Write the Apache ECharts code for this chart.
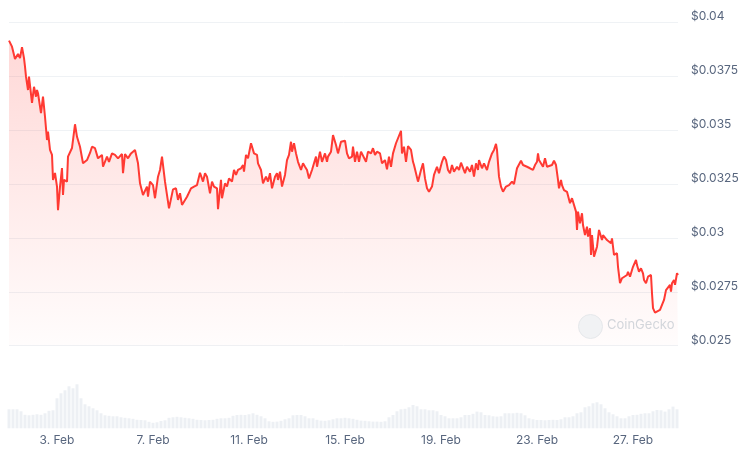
<!DOCTYPE html>
<html>
<head>
<meta charset="utf-8">
<script src="https://cdn.jsdelivr.net/npm/echarts@6/dist/echarts.min.js"></script>
<style>
  html, body { margin: 0; padding: 0; background: #fff; }
  #chart { width: 750px; height: 453px; }
</style>
</head>
<body>
<div id="chart"></div>
<script>
// Hours since 1 Feb 00:00 and price in USD
const priceFeb1to6 = [
  [0,0.03915],[3,0.03887],[6,0.03830],[9,0.03853],[11,0.03834],[13,0.03885],[15,0.03834],[16,0.03794],[17,0.03748],[19,0.03686],
  [20,0.03748],[23,0.03626],[25,0.03701],[27,0.03655],[28,0.03686],[29,0.03671],[32,0.03579],[34,0.03655],[36,0.03562],[38,0.03454],
  [39,0.03493],[41,0.03408],[43,0.03385],[44,0.03269],[46,0.03301],[48,0.03238],[49,0.03129],[51,0.03238],[53,0.03324],[54,0.03199],
  [55,0.03269],[58,0.03261],[59,0.03377],[63,0.03417],[64,0.03454],[66,0.03527],[68,0.03469],[71,0.03423],[74,0.03346],[78,0.03361],
  [81,0.03394],[83,0.03423],[86,0.03416],[89,0.03369],[93,0.03385],[94,0.03330],[98,0.03377],[100,0.03353],[103,0.03392],[106,0.03385],
  [109,0.03369],[113,0.03389],[114,0.03300],[116,0.03389],[119,0.03369],[122,0.03392],[124,0.03385],[126,0.03408],[129,0.03346],[131,0.03253],
  [134,0.03199],[138,0.03238],[139,0.03191],[141,0.03261],[144,0.03245],[146,0.03184],[149,0.03284],[151,0.03315],[153,0.03377],[156,0.03261],
  [158,0.03253],[160,0.03137],[162,0.03145],[164,0.03225]
];
const priceFeb7to14 = [
  [167,0.03230],[169,0.03176],[171,0.03207],[173,0.03153],[175,0.03161],[178,0.03191],[179,0.03184],[182,0.03230],[185,0.03238],[188,0.03245],
  [191,0.03302],[193,0.03300],[194,0.03261],[196,0.03300],[198,0.03284],[201,0.03207],[203,0.03261],[205,0.03238],[208,0.03230],[209,0.03133],
  [212,0.03269],[213,0.03184],[216,0.03253],[218,0.03238],[220,0.03276],[223,0.03261],[225,0.03315],[227,0.03292],[229,0.03315],[232,0.03323],
  [234,0.03338],[235,0.03307],[237,0.03385],[239,0.03369],[242,0.03439],[244,0.03446],[245,0.03392],[248,0.03385],[249,0.03346],[252,0.03315],
  [254,0.03253],[257,0.03284],[259,0.03261],[261,0.03300],[263,0.03230],[266,0.03284],[268,0.03300],[269,0.03269],[271,0.03307],[273,0.03238],
  [276,0.03292],[278,0.03361],[280,0.03385],[282,0.03446],[283,0.03400],[285,0.03439],[287,0.03392],[289,0.03353],[292,0.03315],[294,0.03346],
  [296,0.03330],[298,0.03315],[300,0.03276],[303,0.03315],[305,0.03346],[307,0.03377],[308,0.03330],[311,0.03400],[313,0.03353],[316,0.03392],
  [318,0.03353],[319,0.03377],[322,0.03400],[324,0.03477],[327,0.03431],[329,0.03392],[331,0.03385],[332,0.03446],[334,0.03446],[336,0.03451]
];
const priceFeb15to21 = [
  [338,0.03392],[340,0.03369],[343,0.03377],[344,0.03423],[346,0.03353],[348,0.03400],[350,0.03353],[352,0.03400],[354,0.03392],[357,0.03353],
  [359,0.03400],[362,0.03392],[364,0.03416],[366,0.03385],[368,0.03400],[371,0.03392],[373,0.03346],[376,0.03361],[378,0.03318],[380,0.03377],
  [382,0.03330],[384,0.03392],[387,0.03439],[389,0.03446],[392,0.03497],[393,0.03392],[395,0.03423],[397,0.03353],[399,0.03426],[402,0.03408],
  [404,0.03353],[405,0.03338],[407,0.03300],[409,0.03261],[412,0.03315],[414,0.03346],[416,0.03276],[418,0.03230],[420,0.03214],[423,0.03238],
  [425,0.03292],[427,0.03284],[428,0.03330],[430,0.03300],[433,0.03353],[435,0.03377],[437,0.03361],[439,0.03315],[441,0.03300],[443,0.03338],
  [445,0.03307],[448,0.03330],[450,0.03315],[452,0.03349],[454,0.03349],[456,0.03300],[458,0.03330],[461,0.03307],[463,0.03338],[465,0.03284],
  [467,0.03346],[469,0.03315],[470,0.03361],[473,0.03323],[475,0.03346],[478,0.03315],[480,0.03353],[483,0.03392],[485,0.03408],[487,0.03436],
  [488,0.03408],[490,0.03284],[492,0.03238],[494,0.03214],[497,0.03238],[500,0.03245],[503,0.03261],[505,0.03250]
];
const priceFeb22to28 = [
  [508,0.03323],[510,0.03327],[512,0.03358],[514,0.03338],[518,0.03330],[521,0.03323],[524,0.03315],[526,0.03338],[528,0.03353],[529,0.03392],
  [530,0.03361],[532,0.03369],[534,0.03330],[536,0.03369],[538,0.03330],[540,0.03338],[543,0.03338],[545,0.03358],[547,0.03338],[549,0.03269],
  [550,0.03230],[552,0.03269],[553,0.03245],[555,0.03222],[558,0.03214],[559,0.03207],[561,0.03161],[563,0.03184],[565,0.03191],[567,0.03122],
  [568,0.03037],[569,0.03122],[571,0.03068],[573,0.03114],[574,0.03060],[576,0.03013],[578,0.03052],[579,0.03006],[581,0.03045],[582,0.02921],
  [583,0.03013],[585,0.02913],[587,0.02905],[588,0.02959],[590,0.03037],[593,0.02990],[594,0.03013],[596,0.03006],[598,0.02990],[600,0.02998],
  [602,0.02975],[603,0.02998],[605,0.02921],[608,0.02929],[609,0.02866],[611,0.02790],[613,0.02813],[615,0.02820],[618,0.02828],[619,0.02843],
  [621,0.02820],[623,0.02851],[624,0.02866],[627,0.02898],[628,0.02874],[630,0.02843],[632,0.02859],[634,0.02836],[635,0.02805],[637,0.02790],
  [639,0.02820],[642,0.02828],[643,0.02743],[644,0.02674],[646,0.02653],[648,0.02662],[651,0.02666],[653,0.02662],[655,0.02712],[657,0.02758],
  [659,0.02766],[661,0.02782],[662,0.02751],[663,0.02790],[665,0.02805],[666,0.02782],[668,0.02836],[669,0.02828]
];

// Volume bars every 4 hours from 1 Feb 00:00 (relative units)
const volumeStepHours = 4;
const volume = [
  19,19,19,17,13.5,13,13.5,14,13.5,15,
  17.5,18,30,35,38,42,40,44,30,24,
  22,20,18,15,13,12.5,12,12,11,10.5,
  10,9.5,8.5,8.3,8,6.5,5.5,6,7.3,8,
  10.5,11,11.5,11,10.5,10,9.5,8.5,8.3,8,
  8.3,8.5,9.5,10,10,10.5,12.5,13.3,13.5,13.3,
  14,15,13.5,12,10,7,6.5,6.7,7.5,9,
  10,13,13.3,13.3,12,10,10,8.5,7.7,7.5,
  8,9,10,10,10.5,10,9.5,8.5,7.7,7.5,
  7,6.7,6.7,6.5,7,11,13.3,17,19,19.5,
  21,23.3,22,19,19,18,18,17,13.3,12,
  10,10,10,11,13.3,13.3,14.5,16.7,16,13.3,
  13,12,11.7,12,15,15,15,15.5,15,13,
  10,9,8.3,8.3,8,8.3,8.5,8.3,9,11,
  11,12,15,16,21,22,25,26,24,20,
  16,14,12,10,10,12,13.3,13.5,14.5,15,
  15,17,18.3,18,16.7,19,21.7,19
];

const yTicks = { min: 0.025, max: 0.04, step: 0.0025 };
const monthLabel = 'Feb';

const priceData = [].concat(priceFeb1to6, priceFeb7to14, priceFeb15to21, priceFeb22to28);
const lastHour = priceData[priceData.length - 1][0];
const volumeData = volume.map((v, i) => [i * volumeStepHours, v]);

const textColor = '#58667e';
const font = 'Inter, "Noto Sans", sans-serif';

const chart = echarts.init(document.getElementById('chart'), null, { renderer: 'canvas' });
chart.setOption({
  animation: false,
  backgroundColor: '#ffffff',
  grid: [
    { left: 9, right: 72, top: 22.3, bottom: 107.3 },
    { left: 9, right: 72, top: 380, bottom: 24.7 }
  ],
  xAxis: [
    { type: 'value', gridIndex: 0, min: 0, max: lastHour, interval: 48, show: false },
    {
      type: 'value', gridIndex: 1, min: 0, max: lastHour, interval: 48,
      axisLine: { show: false }, axisTick: { show: false }, splitLine: { show: false },
      axisLabel: {
        color: textColor, fontSize: 12, fontFamily: font, margin: 6,
        showMinLabel: false, showMaxLabel: false,
        formatter: v => {
          const k = v / 48;
          if (!Number.isInteger(k) || k % 2 !== 1) return '';
          return (1 + v / 24) + '. ' + monthLabel;
        }
      }
    }
  ],
  yAxis: [
    {
      type: 'value', gridIndex: 0, position: 'right',
      min: yTicks.min, max: yTicks.max, interval: yTicks.step,
      axisLine: { show: false }, axisTick: { show: false },
      splitLine: { lineStyle: { color: '#eff2f5', width: 1 } },
      axisLabel: {
        color: textColor, fontSize: 12, fontFamily: font, margin: 13,
        align: 'left', verticalAlign: 'bottom', lineHeight: 11,
        formatter: v => '$' + (+v.toFixed(5)).toString()
      }
    },
    { type: 'value', gridIndex: 1, min: 0, max: 48.3, show: false }
  ],
  series: [
    {
      type: 'bar', xAxisIndex: 1, yAxisIndex: 1, data: volumeData,
      barWidth: 3, itemStyle: { color: '#edf0f4' }, silent: true
    },
    {
      type: 'line', xAxisIndex: 0, yAxisIndex: 0, data: priceData,
      symbol: 'none', smooth: false,
      lineStyle: { color: '#ff3a33', width: 2 },
      areaStyle: {
        origin: 'start',
        color: new echarts.graphic.LinearGradient(0, 0, 0, 1, [
          { offset: 0, color: 'rgba(255,58,51,0.28)' },
          { offset: 1, color: 'rgba(255,58,51,0.02)' }
        ])
      }
    }
  ],
  graphic: [
    {
      type: 'circle', left: 578, top: 314, z: 10,
      shape: { r: 12 },
      style: { fill: '#f1f2f4', stroke: '#e6e8eb', lineWidth: 1 }
    },
    {
      type: 'text', left: 607, top: 319, z: 10,
      style: { text: 'CoinGecko', fill: '#d3d6db', font: '13px ' + font }
    }
  ]
});
</script>
</body>
</html>
